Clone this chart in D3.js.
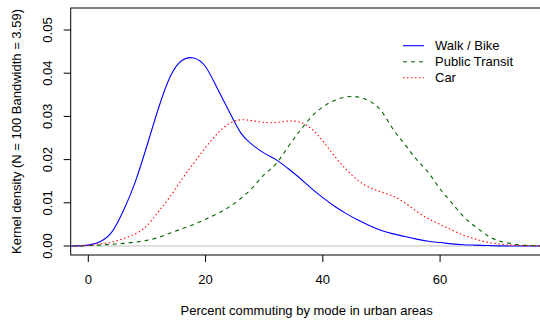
<!DOCTYPE html>
<html>
<head>
<meta charset="utf-8">
<script src="https://cdn.jsdelivr.net/npm/d3@7"></script>
<style>
  body { margin: 0; background: #fff; }
  svg { display: block; font-family: "Liberation Sans", Arial, Helvetica, sans-serif; }
</style>
</head>
<body>
<svg id="chart"></svg>
<script>
// sample positions (percent) and kernel density estimates
const xs = [-4, -2, 0, 2, 4, 6, 8, 10, 12, 14, 16, 18, 20, 22, 24, 26, 28, 30, 32, 34, 36, 38,
  40, 42, 44, 46, 48, 50, 52, 54, 56, 58, 60, 62, 64, 66, 68, 70, 72, 74, 76, 78];

const walkBike = [0, 0.00002, 0.0002, 0.001, 0.0032, 0.0082, 0.0148, 0.0232, 0.032, 0.0393, 0.043, 0.0435,
  0.0415, 0.0365, 0.0312, 0.0262, 0.0234, 0.0215, 0.02, 0.018, 0.0158, 0.0134,
  0.0112, 0.0092, 0.0075, 0.006, 0.0047, 0.0036, 0.0028, 0.0022, 0.0016, 0.0011,
  0.0008, 0.0005, 0.0003, 0.0002, 0.0001, 0.00003, 0, 0, 0, 0];

const transit = [0, 0.00001, 0.0001, 0.0002, 0.0004, 0.0006, 0.0009, 0.0013, 0.002, 0.003, 0.004, 0.005,
  0.0062, 0.0075, 0.009, 0.011, 0.0135, 0.0165, 0.019, 0.0228, 0.0265, 0.0298,
  0.0322, 0.0337, 0.0345, 0.0345, 0.0335, 0.0312, 0.027, 0.0235, 0.02, 0.017,
  0.0132, 0.01, 0.0068, 0.0045, 0.0025, 0.0012, 0.0006, 0.0002, 0.0001, 0];

const car = [0, 0.00003, 0.0002, 0.0005, 0.0009, 0.0017, 0.0028, 0.0047, 0.008, 0.0115, 0.0155, 0.0192,
  0.0228, 0.026, 0.0283, 0.0292, 0.029, 0.0286, 0.0286, 0.0289, 0.0287, 0.0272,
  0.0243, 0.0208, 0.0177, 0.0152, 0.0135, 0.0125, 0.0115, 0.01, 0.008, 0.0063,
  0.005, 0.0037, 0.0025, 0.0016, 0.0009, 0.0005, 0.0002, 0.0001, 0.00003, 0];

const seriesNames = ['Walk / Bike', 'Public Transit', 'Car'];
const xTicks = [0, 20, 40, 60];
const yTicks = [0, 0.01, 0.02, 0.03, 0.04, 0.05];

const width = 540, height = 320;
const box = { left: 70.7, top: 8, right: 542.7, bottom: 255 };

const svg = d3.select('#chart').attr('width', width).attr('height', height);

const x = d3.scaleLinear().domain([-3.0, 77.5]).range([box.left, box.right]);
const y = d3.scaleLinear().domain([0, 0.05]).range([246, 30]);

const styles = [
  { color: '#0000ff', dash: null },
  { color: '#006400', dash: '4,4' },
  { color: '#ff0000', dash: '1.5,2.5' }
];
const allSeries = [walkBike, transit, car];

svg.append('clipPath').attr('id', 'plotclip')
  .append('rect')
  .attr('x', box.left).attr('y', box.top)
  .attr('width', box.right - box.left).attr('height', box.bottom - box.top);

const plot = svg.append('g').attr('clip-path', 'url(#plotclip)');

// zero reference line
plot.append('line')
  .attr('x1', box.left).attr('x2', box.right)
  .attr('y1', y(0)).attr('y2', y(0))
  .attr('stroke', '#bebebe').attr('stroke-width', 1);

const line = d3.line()
  .x((d, i) => x(xs[i]))
  .y(d => y(d))
  .curve(d3.curveNatural);

allSeries.forEach((vals, k) => {
  plot.append('path')
    .datum(vals)
    .attr('d', line)
    .attr('fill', 'none')
    .attr('stroke', styles[k].color)
    .attr('stroke-width', 1.1)
    .attr('stroke-dasharray', styles[k].dash);
});

// box
svg.append('rect')
  .attr('x', box.left).attr('y', box.top)
  .attr('width', box.right - box.left).attr('height', box.bottom - box.top)
  .attr('fill', 'none').attr('stroke', '#000').attr('stroke-width', 1);

// x axis
const xAxis = svg.append('g');
xAxis.selectAll('line').data(xTicks).enter().append('line')
  .attr('x1', d => x(d)).attr('x2', d => x(d))
  .attr('y1', box.bottom).attr('y2', box.bottom + 7)
  .attr('stroke', '#000');
xAxis.selectAll('text').data(xTicks).enter().append('text')
  .attr('x', d => x(d)).attr('y', 283.8)
  .attr('text-anchor', 'middle')
  .style('font-size', '13px')
  .text(d => d);

// y axis
const yAxis = svg.append('g');
yAxis.selectAll('line').data(yTicks).enter().append('line')
  .attr('x1', box.left - 7).attr('x2', box.left)
  .attr('y1', d => y(d)).attr('y2', d => y(d))
  .attr('stroke', '#000');
yAxis.selectAll('text').data(yTicks).enter().append('text')
  .attr('transform', d => `translate(52.4,${y(d)}) rotate(-90)`)
  .attr('text-anchor', 'middle')
  .style('font-size', '13px')
  .text(d => d3.format('.2f')(d));

// axis titles
svg.append('text')
  .attr('x', (box.left + box.right) / 2).attr('y', 315.4)
  .attr('text-anchor', 'middle')
  .style('font-size', '13px')
  .text('Percent commuting by mode in urban areas');

svg.append('text')
  .attr('transform', `translate(20.7,${(box.top + box.bottom) / 2}) rotate(-90)`)
  .attr('text-anchor', 'middle')
  .style('font-size', '13px')
  .text('Kernel density (N = 100 Bandwidth = 3.59)');

// legend
const legend = svg.append('g');
seriesNames.forEach((name, k) => {
  const ly = 45.7 + k * 16;
  legend.append('line')
    .attr('x1', 403).attr('x2', 424)
    .attr('y1', ly).attr('y2', ly)
    .attr('stroke', styles[k].color)
    .attr('stroke-width', 1.1)
    .attr('stroke-dasharray', styles[k].dash);
  legend.append('text')
    .attr('x', 435).attr('y', ly + 4.7)
    .style('font-size', '13px')
    .text(name);
});
</script>
</body>
</html>
